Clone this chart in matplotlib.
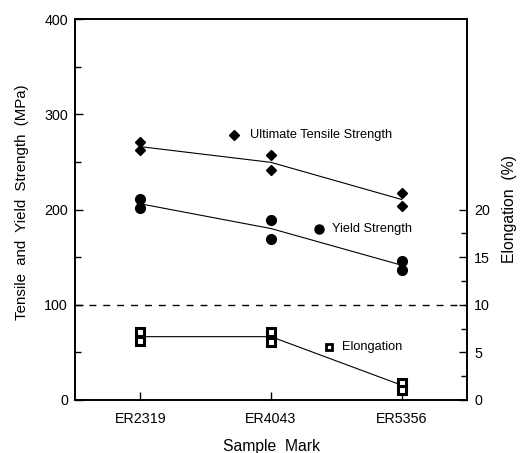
import matplotlib

matplotlib.use("Agg")
import matplotlib.pyplot as plt
import numpy as np
from matplotlib.ticker import MultipleLocator, FixedLocator

plt.rcParams["font.family"] = ["Liberation Sans", "DejaVu Sans"]

samples = ["ER2319", "ER4043", "ER5356"]

# individual measurements (two specimens per sample)
uts_points = [[271, 262], [257, 242], [217, 204]]
ys_points = [[211, 202], [189, 169], [146, 136]]
elong_points = [[7.1, 6.2], [7.1, 6.1], [1.75, 1.1]]

# connecting lines through the averages
uts_line = [266, 249.5, 210.5]
ys_line = [206, 180, 141.5]
elong_line = [6.65, 6.65, 1.55]

# in-plot labels: (x, y) in sample-index / data units
uts_label_pos = (1.72, 278)
ys_label_pos = (2.37, 180)
elong_label_pos = (2.44, 5.6)

x = np.arange(1, len(samples) + 1)

fig = plt.figure(figsize=(5.2, 4.53), dpi=100)
ax = fig.add_axes([0.1442, 0.117, 0.754, 0.841])
ax2 = ax.twinx()

# strength series on left axis
ax.plot(x, uts_line, color="black", lw=0.8)
ax.plot(x, ys_line, color="black", lw=0.8)
for xi, vals in zip(x, uts_points):
    ax.plot([xi] * len(vals), vals, ls="none", marker="D", ms=5.5, color="black")
for xi, vals in zip(x, ys_points):
    ax.plot([xi] * len(vals), vals, ls="none", marker="o", ms=7, color="black")

# elongation on right axis
ax2.plot(x, elong_line, color="black", lw=0.8)
for xi, vals in zip(x, elong_points):
    ax2.plot([xi] * len(vals), vals, ls="none", marker="s", ms=6, mfc="white",
             mec="black", mew=2.2)

ax.axhline(100, color="black", lw=1.0, ls=(0, (5, 5)))

# labels inside the plot
ax.plot(*uts_label_pos, marker="D", ms=5.5, color="black")
ax.text(uts_label_pos[0] + 0.12, uts_label_pos[1], "Ultimate Tensile Strength",
        fontsize=9.2, va="center", ha="left")
ax.plot(*ys_label_pos, marker="o", ms=6.5, color="black")
ax.text(ys_label_pos[0] + 0.1, ys_label_pos[1], "Yield Strength",
        fontsize=9.2, va="center", ha="left")
ax2.plot(*elong_label_pos, marker="s", ms=5, mfc="white", mec="black", mew=2)
ax2.text(elong_label_pos[0] + 0.1, elong_label_pos[1], "Elongation",
         fontsize=9.2, va="center", ha="left")

ax.set_xlim(0.5, 3.5)
ax.set_ylim(0, 400)
ax2.set_ylim(0, 40)

ax.set_xticks(x)
ax.set_xticklabels(samples)
ax.yaxis.set_major_locator(MultipleLocator(100))
ax.yaxis.set_minor_locator(MultipleLocator(50))
ax2.yaxis.set_major_locator(FixedLocator([0, 5, 10, 15, 20]))
ax2.yaxis.set_minor_locator(FixedLocator([2.5, 7.5, 12.5, 17.5]))

ax.tick_params(axis="x", direction="in", length=6, width=1, labelsize=10.3, pad=9)
ax.tick_params(axis="y", which="major", direction="in", length=6, width=1,
               labelsize=10.3, pad=5)
ax.tick_params(axis="y", which="minor", direction="in", length=4, width=1)
ax2.tick_params(axis="y", which="major", direction="in", length=6, width=1,
                labelsize=10.3, pad=5)
ax2.tick_params(axis="y", which="minor", direction="in", length=4, width=1)

for a in (ax, ax2):
    for s in a.spines.values():
        s.set_linewidth(1.2)

ax.set_xlabel("Sample  Mark", fontsize=11.3, labelpad=9)
ax.set_ylabel("Tensile  and  Yield  Strength  (MPa)", fontsize=10.8)
ax.yaxis.set_label_coords(-0.118, 0.52)
ax2.set_ylabel("Elongation  (%)", fontsize=11.3, labelpad=9)

fig.savefig("out.png", dpi=100)
